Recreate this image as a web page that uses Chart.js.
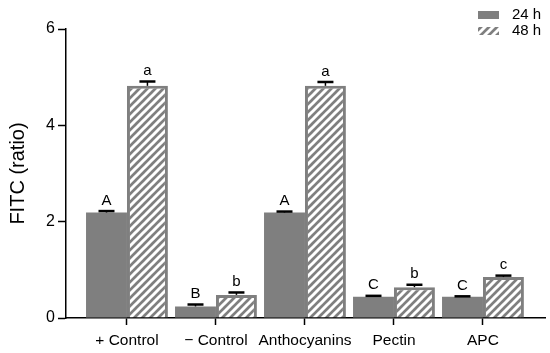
<!DOCTYPE html>
<html lang="en">
<head>
    <meta charset="UTF-8">
    <title>FITC ratio</title>
    <script src="https://cdn.jsdelivr.net/npm/chart.js"></script>
    <style>
        body { margin: 0; background: #fff; font-family: 'Liberation Sans', Arial, sans-serif; }
        #chart-container { width: 550px; height: 353px; }
    </style>
</head>
<body>
    <div id="chart-container">
        <canvas id="fitcChart" width="550" height="353"></canvas>
    </div>

    <script>
        // Data
        const categories = ['+ Control', '\u2212 Control', 'Anthocyanins', 'Pectin', 'APC'];
        const values24 = [2.19, 0.24, 2.19, 0.44, 0.44];
        const errors24 = [0.03, 0.04, 0.02, 0.02, 0.01];
        const letters24 = ['A', 'B', 'A', 'C', 'C'];
        const values48 = [4.82, 0.48, 4.82, 0.64, 0.85];
        const errors48 = [0.09, 0.05, 0.08, 0.05, 0.03];
        const letters48 = ['a', 'b', 'a', 'b', 'c'];
        const yTicks = [0, 2, 4, 6];

        const GREY = '#7f7f7f';
        const FONT = "'Liberation Sans', Arial, sans-serif";

        // white diagonal stripes on grey
        function makeHatch() {
            const c = document.createElement('canvas');
            c.width = 8; c.height = 8;
            const g = c.getContext('2d');
            g.fillStyle = GREY;
            g.fillRect(0, 0, 8, 8);
            g.strokeStyle = '#ffffff';
            g.lineWidth = 3;
            g.beginPath();
            g.moveTo(-4, 4); g.lineTo(4, -4);
            g.moveTo(0, 8); g.lineTo(8, 0);
            g.moveTo(4, 12); g.lineTo(12, 4);
            g.stroke();
            return g.createPattern(c, 'repeat');
        }
        const hatch = makeHatch();

        const toPoints = arr => arr.map((v, i) => ({ x: i, y: v }));

        // error bars (upper only) + significance letters
        const errorBarPlugin = {
            id: 'errorBars',
            afterDatasetsDraw(chart) {
                const ctx = chart.ctx;
                const yScale = chart.scales.y;
                const sets = [[values24, errors24, letters24], [values48, errors48, letters48]];
                sets.forEach((s, di) => {
                    const meta = chart.getDatasetMeta(di);
                    meta.data.forEach((bar, i) => {
                        const top = yScale.getPixelForValue(s[0][i] + s[1][i]);
                        ctx.save();
                        ctx.strokeStyle = '#000';
                        ctx.lineWidth = 1.5;
                        ctx.beginPath();
                        ctx.moveTo(bar.x, bar.y);
                        ctx.lineTo(bar.x, top);
                        ctx.stroke();
                        ctx.lineWidth = 2.5;
                        ctx.beginPath();
                        ctx.moveTo(bar.x - 8, top);
                        ctx.lineTo(bar.x + 8, top);
                        ctx.stroke();
                        ctx.fillStyle = '#000';
                        ctx.font = '15px ' + FONT;
                        ctx.textAlign = 'center';
                        ctx.textBaseline = 'bottom';
                        ctx.fillText(s[2][i], bar.x, top - 3);
                        ctx.restore();
                    });
                });
            }
        };

        // legend in the upper right corner
        const legendPlugin = {
            id: 'cornerLegend',
            afterDraw(chart) {
                const ctx = chart.ctx;
                const items = [['24 h', GREY], ['48 h', hatch]];
                ctx.save();
                items.forEach((it, i) => {
                    const y = 11 + i * 16;
                    ctx.fillStyle = it[1];
                    ctx.fillRect(478, y, 21, 8);
                    ctx.fillStyle = '#000';
                    ctx.font = '15px ' + FONT;
                    ctx.textAlign = 'left';
                    ctx.textBaseline = 'middle';
                    ctx.fillText(it[0], 512, y + 4);
                });
                ctx.restore();
            }
        };

        const ctx = document.getElementById('fitcChart').getContext('2d');
        new Chart(ctx, {
            type: 'bar',
            data: {
                datasets: [
                    {
                        label: '24 h',
                        data: toPoints(values24),
                        backgroundColor: GREY,
                        borderWidth: 0
                    },
                    {
                        label: '48 h',
                        data: toPoints(values48),
                        backgroundColor: hatch,
                        borderColor: GREY,
                        borderWidth: 3
                    }
                ]
            },
            options: {
                responsive: false,
                animation: false,
                categoryPercentage: 0.92,
                barPercentage: 1.0,
                layout: { padding: { top: 29, right: 5, left: 0, bottom: 0 } },
                plugins: {
                    legend: { display: false },
                    tooltip: { enabled: false }
                },
                scales: {
                    x: {
                        type: 'linear',
                        min: -0.685,
                        max: 4.697,
                        offset: false,
                        afterBuildTicks: scale => {
                            scale.ticks = categories.map((c, i) => ({ value: i }));
                        },
                        afterFit: scale => { scale.height = 35; },
                        border: { color: '#000', width: 1.5 },
                        grid: { offset: false, drawOnChartArea: false, color: '#000', tickLength: 7, tickWidth: 1.5 },
                        ticks: {
                            color: '#000',
                            padding: 6,
                            maxRotation: 0,
                            autoSkip: false,
                            font: { family: FONT, size: 15.5 },
                            callback: v => categories[v]
                        }
                    },
                    y: {
                        min: 0,
                        max: 6,
                        afterBuildTicks: scale => {
                            scale.ticks = yTicks.map(v => ({ value: v }));
                        },
                        afterFit: scale => { scale.width = 66; },
                        border: { color: '#000', width: 1.5 },
                        grid: { drawOnChartArea: false, color: '#000', tickLength: 8, tickWidth: 1.5 },
                        ticks: {
                            color: '#000',
                            padding: 3,
                            font: { family: FONT, size: 16 }
                        },
                        title: {
                            display: true,
                            text: 'FITC (ratio)',
                            color: '#000',
                            padding: { top: 6, bottom: 4 },
                            font: { family: FONT, size: 20 }
                        }
                    }
                }
            },
            plugins: [errorBarPlugin, legendPlugin]
        });
    </script>
</body>
</html>
